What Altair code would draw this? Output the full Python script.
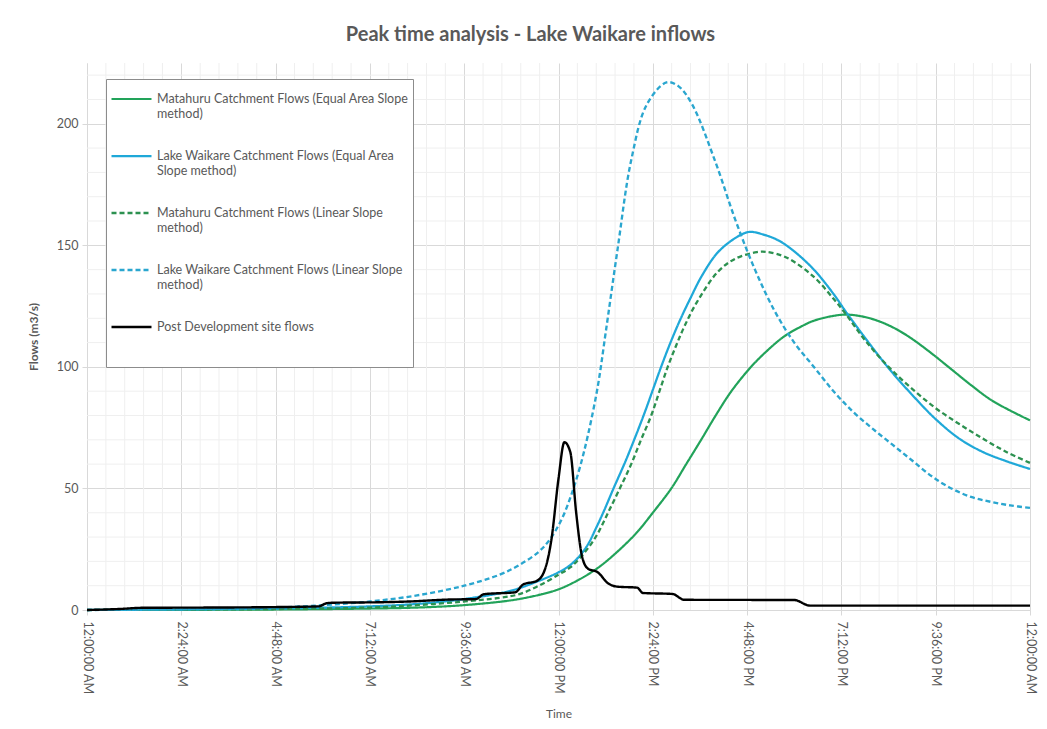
import json
import altair as alt
import pandas as pd

# ---------------- data ----------------
series_names = [
    "Matahuru Catchment Flows (Equal Area Slope|method)",
    "Lake Waikare Catchment Flows (Equal Area|Slope method)",
    "Matahuru Catchment Flows (Linear Slope|method)",
    "Lake Waikare Catchment Flows (Linear Slope|method)",
    "Post Development site flows||",
]
series_colors = ["#22a35a", "#1fa8d8", "#2c9150", "#2aa6cf", "#000000"]
series_dash = [[1, 0], [1, 0], [5, 3], [5, 3], [1, 0]]
series_width = [2.2, 2.4, 2.4, 2.2, 3.2]

# hours after midnight, flow (m3/s)
mat_ea_t = [0, 4.8, 7.2, 8.4, 9.6, 10.8, 11.5, 12, 12.5, 13, 13.5, 14, 14.4, 14.87, 15.25, 15.63, 16, 16.4, 16.9, 17.3, 17.74, 18.2, 18.5, 19, 19.35, 19.8, 20.2, 20.6, 21, 21.5, 22, 22.5, 23, 23.5, 24]
mat_ea_v = [0, 0.2, 0.6, 1, 2, 4, 6.2, 8.5, 12.3, 17.3, 24, 32, 40, 50, 60, 70, 80, 90, 100, 106.5, 112.5, 116.8, 119, 121, 121.5, 120.5, 118.5, 115.5, 111.5, 105.5, 99, 92.5, 86.5, 82, 78]

lw_ea_t = [0, 2.4, 4.8, 7.2, 8.4, 9.6, 10.8, 11.5, 12, 12.3, 12.55, 12.75, 12.95, 13.15, 13.4, 13.7, 13.95, 14.2, 14.4, 14.6, 14.85, 15.1, 15.35, 15.65, 16.05, 16.5, 16.85, 17.2, 17.6, 18, 18.5, 19, 19.3, 19.8, 20.4, 21, 21.6, 22.2, 22.8, 23.4, 24]
lw_ea_v = [0, 0.2, 0.6, 1.5, 2.5, 4.5, 8, 12, 15.5, 18.5, 22.5, 27, 33.5, 40.5, 50, 61, 71, 81.5, 90.5, 99.5, 110, 119.5, 128, 137.5, 147, 153, 155.5, 154.5, 152, 147.5, 140, 130, 123, 112, 99.5, 88.5, 78.5, 70.5, 65, 61.2, 58]

mat_lin_t = [0, 4.8, 7.2, 8.4, 9.6, 10.5, 11, 11.5, 12, 12.3, 12.55, 12.8, 13.0, 13.26, 13.56, 13.85, 14.1, 14.36, 14.57, 14.78, 15, 15.2, 15.5, 16.05, 16.5, 17.05, 17.3, 17.8, 18.5, 19, 19.3, 19.8, 20.4, 21, 21.6, 22.2, 22.8, 23.4, 24]
mat_lin_v = [0, 0.4, 1, 2, 3.5, 5, 6.5, 10, 14.5, 17.5, 21.5, 26.5, 31.5, 40, 50, 60, 70, 80, 90, 100, 109, 116.5, 126, 139, 144.5, 147.2, 147.3, 145, 137, 128, 122, 111, 100, 91, 83, 76.5, 70.5, 65, 60.5]

lw_lin_t = [0, 2.4, 4.8, 6, 7.2, 8.4, 9.6, 10.5, 11, 11.5, 11.8, 12.1, 12.35, 12.55, 12.75, 13, 13.2, 13.5, 13.85, 14.25, 14.75, 15.05, 15.4, 16, 16.5, 17, 17.5, 18, 18.5, 19, 19.5, 20, 20.5, 21, 21.5, 22, 22.5, 23, 23.5, 24]
lw_lin_v = [0, 0.3, 1, 2, 3.5, 6, 10, 14.5, 18.5, 24, 29.5, 38, 48.5, 59, 72, 92, 114, 148, 185, 208, 217, 215.5, 208, 184, 160.5, 140, 123, 110, 100, 90, 81.5, 74.5, 68, 61.5, 55, 50, 46.5, 44.5, 43, 42]

post_t = [0, 0.8, 1.4, 3, 4.8, 5.9, 6.1, 6.3, 7.5, 8.2, 9.2, 9.9, 10.1, 10.9, 11.1, 11.45, 11.65, 11.82, 12, 12.15, 12.3, 12.45, 12.6, 12.75, 13, 13.26, 13.5, 14, 14.15, 14.9, 15.2, 18.0, 18.4, 24]
post_v = [0, 0.4, 0.9, 1, 1.2, 1.5, 2.8, 3, 3.2, 3.5, 4.3, 4.5, 6.5, 7.3, 10.5, 12, 16.5, 29, 54, 69, 65, 40, 22, 17, 15.5, 11, 9.6, 9.2, 7, 6.6, 4.2, 4.1, 1.8, 1.8]

x_tick_labels = ["12:00:00 AM", "2:24:00 AM", "4:48:00 AM", "7:12:00 AM", "9:36:00 AM",
                 "12:00:00 PM", "2:24:00 PM", "4:48:00 PM", "7:12:00 PM", "9:36:00 PM",
                 "12:00:00 AM"]
x_major = [round(2.4 * k, 2) for k in range(11)]
x_minor = [round(0.48 * k, 2) for k in range(51) if k % 5 != 0]
y_major = [0, 50, 100, 150, 200]
y_minor = [v for v in range(10, 230, 10) if v % 50 != 0]

# ---------------- build table ----------------
rows = []
for name, ts, vs in zip(series_names,
                        [mat_ea_t, lw_ea_t, mat_lin_t, lw_lin_t, post_t],
                        [mat_ea_v, lw_ea_v, mat_lin_v, lw_lin_v, post_v]):
    for t, v in zip(ts, vs):
        rows.append({"series": name, "t": t, "flow": v})
df = pd.DataFrame(rows)
df_smooth = df[df["series"] != series_names[4]]
df_post = df[df["series"] == series_names[4]]

xscale = alt.Scale(domain=[0, 24], nice=False, zero=False)
yscale = alt.Scale(domain=[0, 225], nice=False)

label_expr = json.dumps(x_tick_labels) + "[round(datum.value / 2.4)]"

vminor = alt.Chart(pd.DataFrame({"t": x_minor})).mark_rule(color="#efefef", strokeWidth=1).encode(
    x=alt.X("t:Q", scale=xscale)
)
hminor = alt.Chart(pd.DataFrame({"v": y_minor})).mark_rule(color="#efefef", strokeWidth=1).encode(
    y=alt.Y("v:Q", scale=yscale)
)

x_enc = alt.X("t:Q", scale=xscale,
              axis=alt.Axis(values=x_major, labelExpr=label_expr, labelAngle=90,
                            labelAlign="left", labelBaseline="middle", labelPadding=6,
                            labelFontSize=12.5,
                            grid=True, gridColor="#d9d9d9", domainColor="#d9d9d9",
                            tickColor="#d9d9d9", tickSize=5,
                            title="Time", titlePadding=14, titleFontWeight="normal"))
y_enc = alt.Y("flow:Q", scale=yscale,
              axis=alt.Axis(values=y_major, grid=True, gridColor="#d9d9d9",
                            domainColor="#d9d9d9", tickColor="#d9d9d9", tickSize=5,
                            labelPadding=4, labelFontSize=12.5,
                            title="Flows (m3/s)", titlePadding=16,
                            titleFontWeight="bold"))
color_enc = alt.Color("series:N", scale=alt.Scale(domain=series_names, range=series_colors),
                      sort=series_names, title=None,
                      legend=alt.Legend(orient="none", legendX=19, legendY=16,
                                        symbolType="stroke", symbolSize=1600, clipHeight=32,
                                        labelExpr="split(datum.label, '|')",
                                        labelFontSize=12.5, labelColor="#595959",
                                        labelLimit=400, rowPadding=20,
                                        padding=4, strokeColor="#8c8c8c",
                                        fillColor="white", labelOffset=4))
dash_enc = alt.StrokeDash("series:N", scale=alt.Scale(domain=series_names, range=series_dash),
                          sort=series_names, title=None)
width_enc = alt.StrokeWidth("series:N", scale=alt.Scale(domain=series_names, range=series_width),
                            sort=series_names, title=None)

smooth_lines = alt.Chart(df_smooth).mark_line(interpolate="catmull-rom").encode(
    x=x_enc, y=y_enc, color=color_enc, strokeDash=dash_enc, strokeWidth=width_enc
)
post_line = alt.Chart(df_post).mark_line(interpolate="monotone").encode(
    x=x_enc, y=y_enc, color=color_enc, strokeDash=dash_enc, strokeWidth=width_enc
)

chart = alt.layer(vminor, hminor, smooth_lines, post_line).properties(
    width=943, height=547,
    title=alt.TitleParams("Peak time analysis - Lake Waikare inflows", fontSize=20,
                          fontWeight="bold", color="#595959", font="Lato", dx=-28, offset=18),
    autosize=alt.AutoSizeParams(type="none"),
    padding={"left": 79, "top": 55, "right": 9, "bottom": 111},
).configure(font="Lato").configure_axis(
    labelColor="#595959", titleColor="#595959", labelFontSize=12, titleFontSize=12,
).configure_view(stroke=None)

chart.save("out.html", embed_options={"renderer": "svg", "actions": False})
